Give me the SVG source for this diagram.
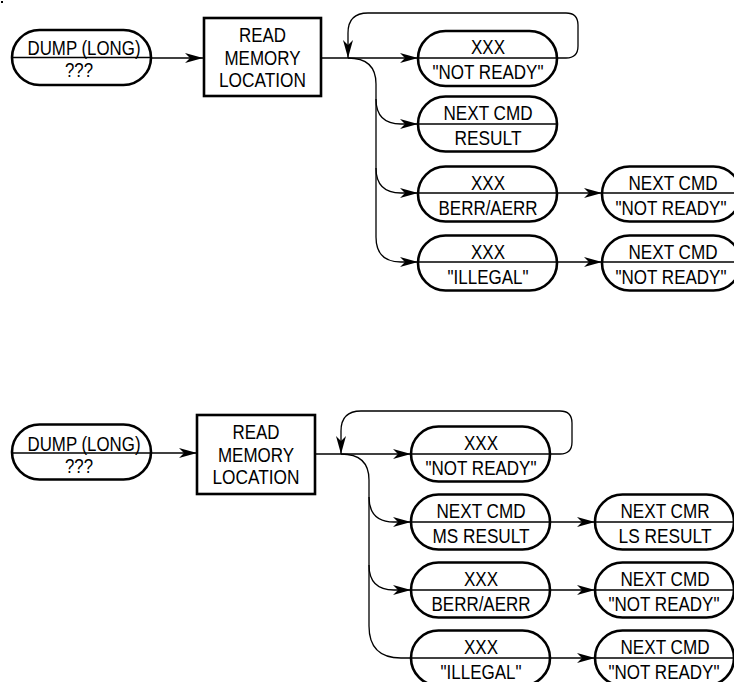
<svg xmlns="http://www.w3.org/2000/svg" width="734" height="682" viewBox="0 0 734 682">
<style>
.n{fill:#fff;stroke:#000;stroke-width:2.6}
.d{stroke:#000;stroke-width:1.5}
.c{fill:none;stroke:#000;stroke-width:1.3}
.a{marker-end:url(#ah)}
text{font-family:"Liberation Sans",Arial,sans-serif;font-size:20px;fill:#000;text-anchor:middle}
</style>
<defs>
<marker id="ah" markerUnits="userSpaceOnUse" markerWidth="19" markerHeight="11" refX="18" refY="5" orient="auto" overflow="visible">
<path d="M0,0 L18,5 L0,10 L5,5 Z" fill="#000"/>
</marker>
</defs>
<rect x="1" y="1" width="2" height="2" fill="#000"/>

<g id="connectors">
<path class="c a" d="M151,58 H203"/>
<path class="c a" d="M321,58 H418"/>
<path class="c a" d="M557,58 H566 Q578,58 578,46 V25 Q578,13 566,13 H368 Q348,13 348,33 V58"/>
<path class="c a" d="M348,58 Q376,58 376,84 V237 Q376,262 401,262 H418"/>
<path class="c a" d="M376,99 Q376,124 401,124 H418"/>
<path class="c a" d="M376,168 Q376,193 401,193 H418"/>
<path class="c a" d="M557,193 H602"/>
<path class="c a" d="M557,262 H602"/>
<path class="c a" d="M151,453 H197"/>
<path class="c a" d="M315,454 H411"/>
<path class="c a" d="M550,454 H560 Q572,454 572,442 V423 Q572,411 560,411 H361 Q341,411 341,431 V454"/>
<path class="c" d="M341,454 Q369,454 369,480 V626 Q369,658 401,658 H411"/>
<path class="c a" d="M369,497 Q369,522 394,522 H411"/>
<path class="c a" d="M369,565 Q369,590 394,590 H411"/>
<path class="c a" d="M550,522 H595"/>
<path class="c a" d="M550,590 H595"/>
<path class="c a" d="M550,658 H595"/>
</g>

<g id="t-dump">
<rect class="n" x="12" y="30" width="139" height="55" rx="27.5"/>
<line class="d" x1="12" y1="57.5" x2="151" y2="57.5"/>
<text x="84" y="55" textLength="113" lengthAdjust="spacingAndGlyphs">DUMP (LONG)</text>
<text x="79" y="77" textLength="28" lengthAdjust="spacingAndGlyphs">???</text>
</g>
<g id="t-read">
<rect class="n" x="204" y="18" width="117" height="78"/>
<text x="262.5" y="42" textLength="47" lengthAdjust="spacingAndGlyphs">READ</text>
<text x="262.5" y="65" textLength="76" lengthAdjust="spacingAndGlyphs">MEMORY</text>
<text x="262.5" y="87" textLength="87" lengthAdjust="spacingAndGlyphs">LOCATION</text>
</g>
<g id="t-r1">
<rect class="n" x="418" y="31" width="139" height="55" rx="27.5"/>
<line class="d" x1="418" y1="58" x2="557" y2="58"/>
<text x="488" y="54" textLength="34" lengthAdjust="spacingAndGlyphs">XXX</text>
<text x="488" y="79" textLength="111" lengthAdjust="spacingAndGlyphs">"NOT READY"</text>
</g>
<g id="t-r2">
<rect class="n" x="418" y="96.5" width="139" height="55" rx="27.5"/>
<line class="d" x1="418" y1="124" x2="557" y2="124"/>
<text x="488" y="120" textLength="89" lengthAdjust="spacingAndGlyphs">NEXT CMD</text>
<text x="488" y="145" textLength="67" lengthAdjust="spacingAndGlyphs">RESULT</text>
</g>
<g id="t-r3">
<rect class="n" x="418" y="166.5" width="139" height="55" rx="27.5"/>
<line class="d" x1="418" y1="193" x2="557" y2="193"/>
<text x="488" y="190" textLength="34" lengthAdjust="spacingAndGlyphs">XXX</text>
<text x="488" y="215" textLength="99" lengthAdjust="spacingAndGlyphs">BERR/AERR</text>
</g>
<g id="t-r3b">
<rect class="n" x="602" y="166.5" width="139" height="55" rx="27.5"/>
<line class="d" x1="602" y1="193" x2="741" y2="193"/>
<text x="673" y="190" textLength="89" lengthAdjust="spacingAndGlyphs">NEXT CMD</text>
<text x="671" y="215" textLength="111" lengthAdjust="spacingAndGlyphs">"NOT READY"</text>
</g>
<g id="t-r4">
<rect class="n" x="418" y="235.5" width="139" height="55" rx="27.5"/>
<line class="d" x1="418" y1="262" x2="557" y2="262"/>
<text x="488" y="259" textLength="34" lengthAdjust="spacingAndGlyphs">XXX</text>
<text x="488" y="284" textLength="81" lengthAdjust="spacingAndGlyphs">"ILLEGAL"</text>
</g>
<g id="t-r4b">
<rect class="n" x="602" y="235.5" width="139" height="55" rx="27.5"/>
<line class="d" x1="602" y1="262" x2="741" y2="262"/>
<text x="673" y="259" textLength="89" lengthAdjust="spacingAndGlyphs">NEXT CMD</text>
<text x="671" y="284" textLength="111" lengthAdjust="spacingAndGlyphs">"NOT READY"</text>
</g>

<g id="b-dump">
<rect class="n" x="12" y="424.5" width="139" height="55" rx="27.5"/>
<line class="d" x1="12" y1="453" x2="151" y2="453"/>
<text x="84" y="451" textLength="113" lengthAdjust="spacingAndGlyphs">DUMP (LONG)</text>
<text x="79" y="473" textLength="28" lengthAdjust="spacingAndGlyphs">???</text>
</g>
<g id="b-read">
<rect class="n" x="197" y="415" width="118" height="79"/>
<text x="256" y="439" textLength="47" lengthAdjust="spacingAndGlyphs">READ</text>
<text x="256" y="462" textLength="76" lengthAdjust="spacingAndGlyphs">MEMORY</text>
<text x="256" y="484" textLength="87" lengthAdjust="spacingAndGlyphs">LOCATION</text>
</g>
<g id="b-r1">
<rect class="n" x="411" y="426.5" width="139" height="55" rx="27.5"/>
<line class="d" x1="411" y1="454" x2="550" y2="454"/>
<text x="481" y="450" textLength="34" lengthAdjust="spacingAndGlyphs">XXX</text>
<text x="481" y="475" textLength="111" lengthAdjust="spacingAndGlyphs">"NOT READY"</text>
</g>
<g id="b-r2">
<rect class="n" x="411" y="494.5" width="139" height="55" rx="27.5"/>
<line class="d" x1="411" y1="522" x2="550" y2="522"/>
<text x="481" y="518" textLength="89" lengthAdjust="spacingAndGlyphs">NEXT CMD</text>
<text x="481" y="543" textLength="97" lengthAdjust="spacingAndGlyphs">MS RESULT</text>
</g>
<g id="b-r2b">
<rect class="n" x="595" y="494.5" width="139" height="55" rx="27.5"/>
<line class="d" x1="595" y1="522" x2="734" y2="522"/>
<text x="665" y="518" textLength="89" lengthAdjust="spacingAndGlyphs">NEXT CMR</text>
<text x="665" y="543" textLength="93" lengthAdjust="spacingAndGlyphs">LS RESULT</text>
</g>
<g id="b-r3">
<rect class="n" x="411" y="562.5" width="139" height="55" rx="27.5"/>
<line class="d" x1="411" y1="590" x2="550" y2="590"/>
<text x="481" y="586" textLength="34" lengthAdjust="spacingAndGlyphs">XXX</text>
<text x="481" y="611" textLength="99" lengthAdjust="spacingAndGlyphs">BERR/AERR</text>
</g>
<g id="b-r3b">
<rect class="n" x="595" y="562.5" width="139" height="55" rx="27.5"/>
<line class="d" x1="595" y1="590" x2="734" y2="590"/>
<text x="665" y="586" textLength="89" lengthAdjust="spacingAndGlyphs">NEXT CMD</text>
<text x="664" y="611" textLength="111" lengthAdjust="spacingAndGlyphs">"NOT READY"</text>
</g>
<g id="b-r4">
<rect class="n" x="411" y="630.5" width="139" height="55" rx="27.5"/>
<line class="d" x1="411" y1="658" x2="550" y2="658"/>
<text x="481" y="654" textLength="34" lengthAdjust="spacingAndGlyphs">XXX</text>
<text x="481" y="679" textLength="81" lengthAdjust="spacingAndGlyphs">"ILLEGAL"</text>
</g>
<g id="b-r4b">
<rect class="n" x="595" y="630.5" width="139" height="55" rx="27.5"/>
<line class="d" x1="595" y1="658" x2="734" y2="658"/>
<text x="665" y="654" textLength="89" lengthAdjust="spacingAndGlyphs">NEXT CMD</text>
<text x="664" y="679" textLength="111" lengthAdjust="spacingAndGlyphs">"NOT READY"</text>
</g>
</svg>
